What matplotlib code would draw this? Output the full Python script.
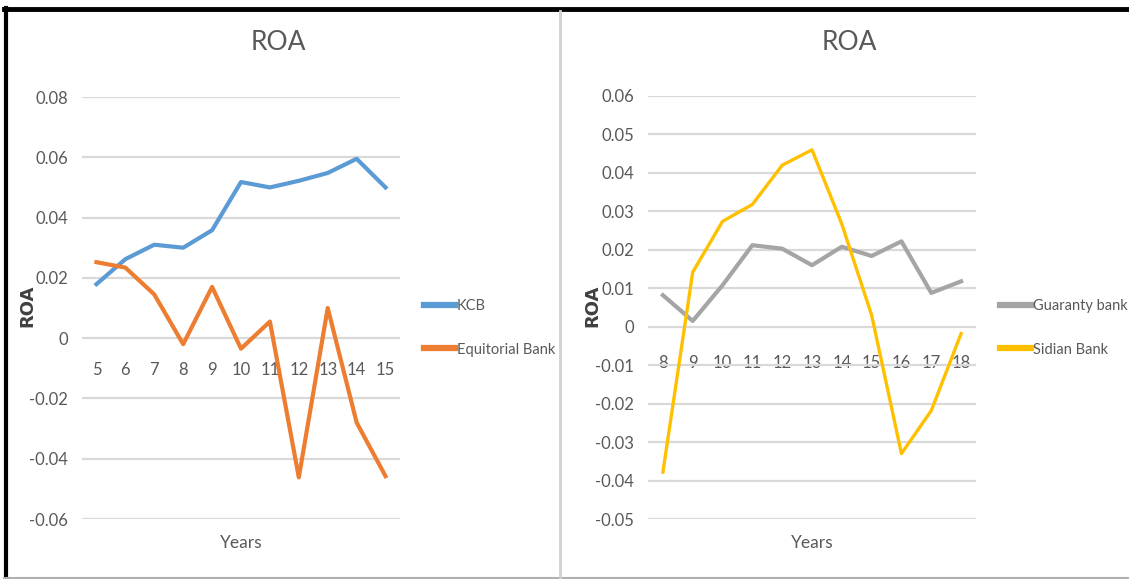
import numpy as np
import matplotlib.pyplot as plt
from matplotlib.lines import Line2D
from matplotlib.ticker import FuncFormatter

plt.rcParams['font.family'] = ['Lato', 'DejaVu Sans']

# left chart data
years_left = [5, 6, 7, 8, 9, 10, 11, 12, 13, 14, 15]
kcb = [0.0179, 0.0262, 0.0310, 0.0300, 0.0358, 0.0518, 0.0500, 0.0522, 0.0548, 0.0595, 0.0500]
equitorial = [0.0252, 0.0234, 0.0145, -0.0020, 0.0170, -0.0035, 0.0055, -0.0462, 0.0100, -0.0280, -0.0458]

# right chart data
years_right = [8, 9, 10, 11, 12, 13, 14, 15, 16, 17, 18]
guaranty = [0.0082, 0.0015, 0.0108, 0.0212, 0.0203, 0.0160, 0.0208, 0.0184, 0.0222, 0.0088, 0.0118]
sidian = [-0.0378, 0.0142, 0.0274, 0.0318, 0.0420, 0.0460, 0.0267, 0.0030, -0.0330, -0.0218, -0.0018]

yticks_left = [-0.06, -0.04, -0.02, 0, 0.02, 0.04, 0.06, 0.08]
yticks_right = [-0.05, -0.04, -0.03, -0.02, -0.01, 0, 0.01, 0.02, 0.03, 0.04, 0.05, 0.06]

W, H = 1129, 579
fig = plt.figure(figsize=(W / 100, H / 100), dpi=100)
fig.patch.set_facecolor('white')

tick_col = '#595959'
grid_col = '#d9d9d9'


def fx(px):
    return px / W


def fy(py):
    return 1 - py / H


def setup(ax, years, yticks, ylim, xpad):
    ax.set_xlim(years[0] - 0.5, years[-1] + 0.5)
    ax.set_ylim(*ylim)
    for s in ax.spines.values():
        s.set_visible(False)
    ax.spines['bottom'].set_position(('data', 0))
    ax.set_yticks(yticks)
    ax.yaxis.set_major_formatter(FuncFormatter(lambda v, p: '{:g}'.format(round(v, 4))))
    ax.set_xticks(years)
    ax.set_xticklabels([str(y) for y in years])
    ax.tick_params(axis='both', length=0, colors=tick_col, labelsize=12)
    ax.tick_params(axis='x', pad=xpad)
    ax.tick_params(axis='y', pad=10)
    ax.yaxis.grid(True, color=grid_col, lw=1.6)
    ax.set_axisbelow(True)


leg_kw = dict(loc='center left', bbox_transform=fig.transFigure, frameon=False, fontsize=10.5,
              handlelength=2.1, handletextpad=0.15, labelspacing=2.0, labelcolor=tick_col,
              borderpad=0, borderaxespad=0)

# left panel
ax1 = fig.add_axes([fx(82), fy(519), fx(400 - 82), (519 - 97) / H])
setup(ax1, years_left, yticks_left, (-0.06, 0.08), 17)
ax1.plot(years_left, kcb, color='#5B9BD5', lw=3, label='KCB', solid_joinstyle='round')
ax1.plot(years_left, equitorial, color='#ED7D31', lw=3, label='Equitorial Bank', solid_joinstyle='round')
leg1 = ax1.legend(bbox_to_anchor=(fx(424), fy(328)), **leg_kw)

# right panel
ax2 = fig.add_axes([fx(648), fy(519), fx(976 - 648), (519 - 96) / H])
setup(ax2, years_right, yticks_right, (-0.05, 0.06), 20)
ax2.plot(years_right, guaranty, color='#A5A5A5', lw=3, label='Guaranty bank', solid_joinstyle='round')
ax2.plot(years_right, sidian, color='#FFC000', lw=2.4, label='Sidian Bank', solid_joinstyle='round')
leg2 = ax2.legend(bbox_to_anchor=(fx(1000), fy(328)), **leg_kw)
for leg in (leg1, leg2):
    for h in leg.get_lines():
        h.set_linewidth(4.5)

# titles and axis labels
fig.text(fx(278), fy(42), 'ROA', ha='center', va='center', fontsize=19, color=tick_col)
fig.text(fx(849), fy(42), 'ROA', ha='center', va='center', fontsize=19, color=tick_col)
fig.text(fx(241), fy(543), 'Years', ha='center', va='center', fontsize=12.5, color=tick_col)
fig.text(fx(812), fy(543), 'Years', ha='center', va='center', fontsize=12.5, color=tick_col)
fig.text(fx(27), fy(306), 'ROA', ha='center', va='center', rotation=90, fontsize=13,
         fontweight='bold', color='#404040', family=['DejaVu Sans'])
fig.text(fx(592), fy(306), 'ROA', ha='center', va='center', rotation=90, fontsize=13,
         fontweight='bold', color='#404040', family=['DejaVu Sans'])

# frame around the two charts
fig.add_artist(Line2D([fx(4), fx(W)], [fy(9), fy(9)], color='black', lw=3.5))
fig.add_artist(Line2D([fx(5.5), fx(5.5)], [fy(8), fy(579)], color='black', lw=3))
fig.add_artist(Line2D([fx(4), fx(W)], [fy(577.5), fy(577.5)], color='#b0b0b0', lw=1.5))
fig.add_artist(Line2D([fx(560), fx(560)], [fy(11), fy(578)], color='#d0d0d0', lw=2))

fig.savefig('out.png', dpi=100, facecolor='white')
